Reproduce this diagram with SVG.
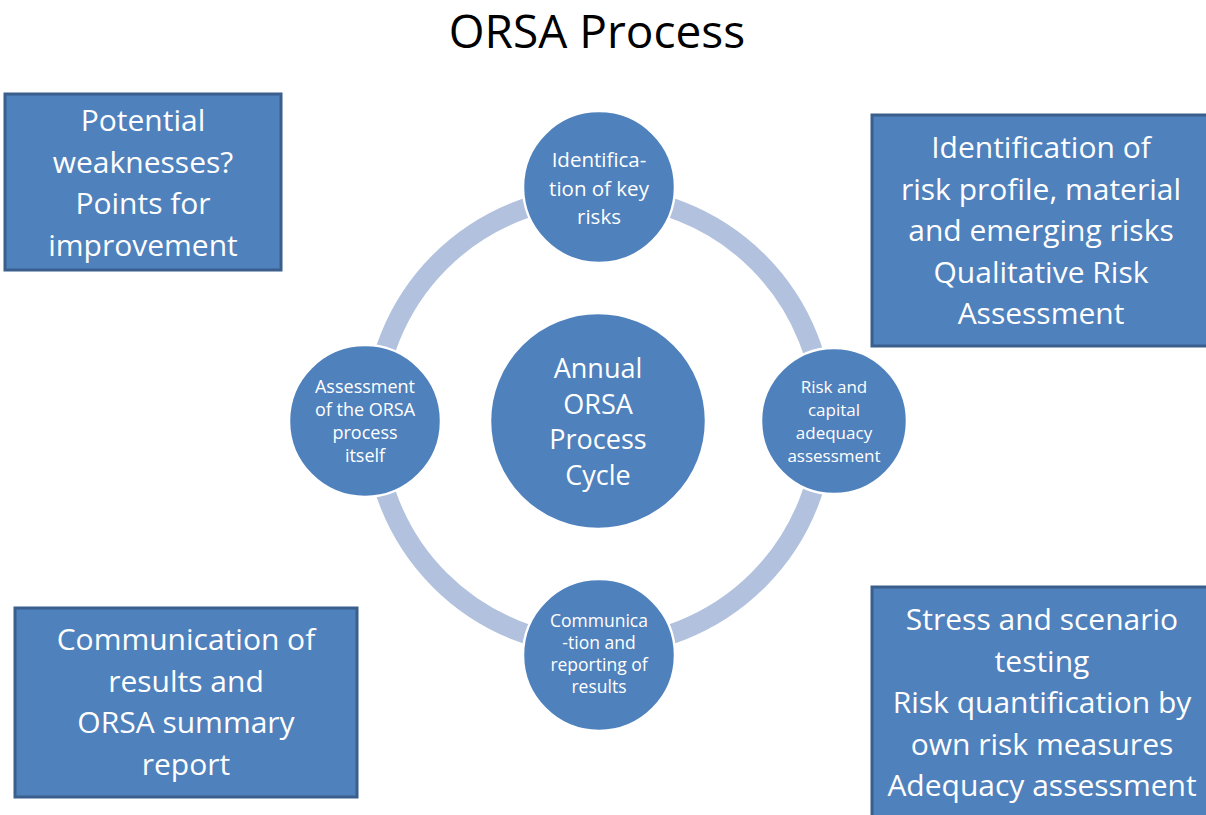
<svg xmlns="http://www.w3.org/2000/svg" width="1206" height="815" viewBox="0 0 1206 815">
<style>
.box{fill:#4F81BD;stroke:#3A5F8C;stroke-width:3}
.node{fill:#4F81BD;stroke:#FFFFFF;stroke-width:2.5}
.band{fill:none;stroke:#B2C2DE;stroke-width:20}
text{font-family:"Open Sans","Liberation Sans",sans-serif;fill:#FFFFFF;text-anchor:middle}
.t30{font-size:30px}
.title{font-size:46px;fill:#000000}
</style>
<rect width="1206" height="815" fill="#FFFFFF"/>
<text class="title" x="597" y="48">ORSA Process</text>
<g id="connectors">
<path class="band" d="M599 196 A225 225 0 0 1 824 421"/>
<path class="band" d="M824 421 A225 225 0 0 1 599 646"/>
<path class="band" d="M599 646 A225 225 0 0 1 374 421"/>
<path class="band" d="M374 421 A225 225 0 0 1 599 196"/>
</g>
<g id="center">
<circle class="node" cx="598" cy="421" r="108"/>
<text style="font-size:27px"><tspan x="598" y="378">Annual</tspan><tspan x="598" y="414">ORSA</tspan><tspan x="598" y="449">Process</tspan><tspan x="598" y="485">Cycle</tspan></text>
</g>
<g id="node-top">
<circle class="node" cx="599" cy="187" r="76"/>
<text style="font-size:20.5px"><tspan x="599" y="167">Identifica-</tspan><tspan x="599" y="196">tion of key</tspan><tspan x="599" y="224">risks</tspan></text>
</g>
<g id="node-right">
<circle class="node" cx="834" cy="421" r="73"/>
<text style="font-size:17px"><tspan x="834" y="393">Risk and</tspan><tspan x="834" y="416">capital</tspan><tspan x="834" y="439">adequacy</tspan><tspan x="834" y="462">assessment</tspan></text>
</g>
<g id="node-bottom">
<circle class="node" cx="599" cy="655" r="76"/>
<text style="font-size:17.5px"><tspan x="599" y="627">Communica</tspan><tspan x="599" y="649">-tion and</tspan><tspan x="599" y="671">reporting of</tspan><tspan x="599" y="693">results</tspan></text>
</g>
<g id="node-left">
<circle class="node" cx="365" cy="421" r="76"/>
<text style="font-size:18px"><tspan x="365" y="393">Assessment</tspan><tspan x="365" y="416">of the ORSA</tspan><tspan x="365" y="439">process</tspan><tspan x="365" y="462">itself</tspan></text>
</g>
<g id="box-top-left">
<rect class="box" x="5" y="94" width="276" height="176"/>
<text class="t30"><tspan x="143" y="131">Potential</tspan><tspan x="143" y="172.5">weaknesses?</tspan><tspan x="143" y="214">Points for</tspan><tspan x="143" y="255.5">improvement</tspan></text>
</g>
<g id="box-top-right">
<rect class="box" x="872" y="115" width="340" height="231"/>
<text class="t30"><tspan x="1041" y="158">Identification of</tspan><tspan x="1041" y="199.5">risk profile, material</tspan><tspan x="1041" y="241">and emerging risks</tspan><tspan x="1041" y="282.5">Qualitative Risk</tspan><tspan x="1041" y="324">Assessment</tspan></text>
</g>
<g id="box-bottom-left">
<rect class="box" x="15" y="608" width="342" height="189"/>
<text class="t30"><tspan x="186" y="650">Communication of</tspan><tspan x="186" y="691.5">results and</tspan><tspan x="186" y="733">ORSA summary</tspan><tspan x="186" y="774.5">report</tspan></text>
</g>
<g id="box-bottom-right">
<rect class="box" x="872" y="587" width="340" height="240"/>
<text class="t30"><tspan x="1042" y="630">Stress and scenario</tspan><tspan x="1042" y="671.5">testing</tspan><tspan x="1042" y="713">Risk quantification by</tspan><tspan x="1042" y="754.5">own risk measures</tspan><tspan x="1042" y="796">Adequacy assessment</tspan></text>
</g>
</svg>
